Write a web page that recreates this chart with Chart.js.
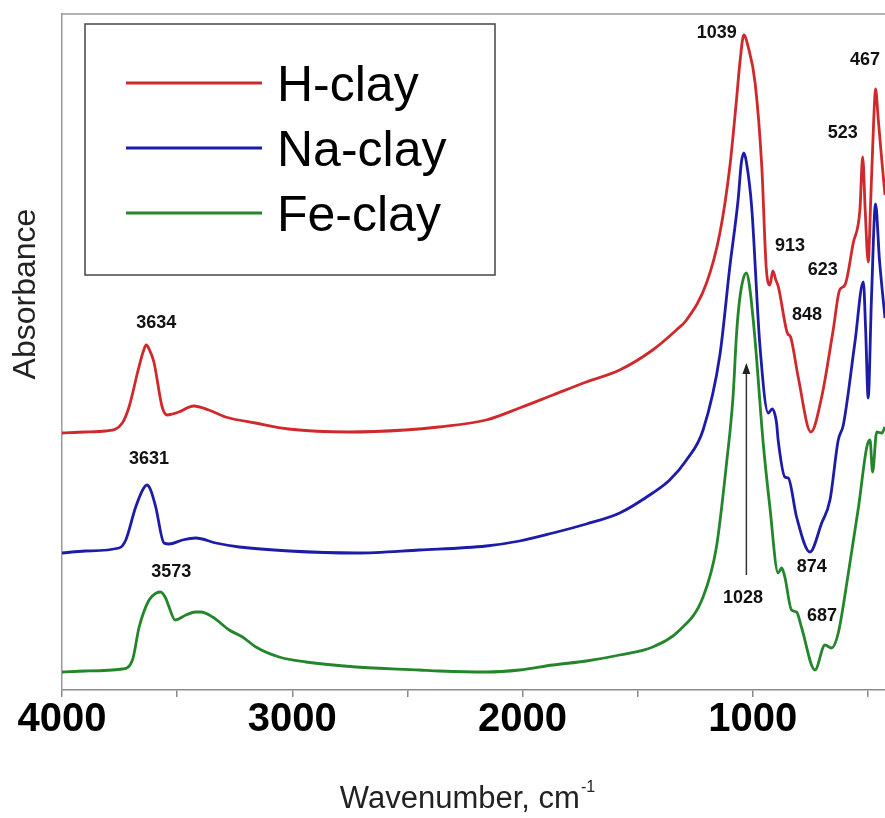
<!DOCTYPE html>
<html><head><meta charset="utf-8">
<script src="https://cdn.jsdelivr.net/npm/chart.js@4.4.0/dist/chart.umd.min.js"></script>
<style>html,body{margin:0;padding:0;background:#fff;overflow:hidden}#wrap{width:885px;height:818px;position:relative}</style>
</head><body><div id="wrap"><canvas id="c"></canvas></div>
<script>
// Wavenumbers (cm-1) and absorbance (arbitrary units, offset spectra)
const hWave = [4000,3900,3810,3738,3709,3666,3645,3634,3620,3601,3565,3543,3520,3493,3428,3363,3290,3160,3016,2755,2510,2365,2158,2013,1868,1723,1578,1435,1332,1288,1201,1143,1100,1071,1055,1039,1020,990,961,942,926,913,900,889,854,848,836,803,748,701,651,623,600,564,535,523,512,499,488,475,467,455,440,426];
const hAbs  = [2.57,2.58,2.59,2.67,2.83,3.23,3.40,3.45,3.40,3.28,2.83,2.75,2.76,2.78,2.84,2.80,2.73,2.67,2.61,2.58,2.60,2.63,2.70,2.82,2.95,3.08,3.20,3.40,3.60,3.70,4.07,4.57,5.23,5.90,6.30,6.55,6.43,6.07,5.23,4.23,4.05,4.19,4.10,4.03,3.60,3.56,3.53,3.13,2.58,2.93,3.60,4.00,4.05,4.47,4.80,5.33,4.80,4.28,4.90,5.70,6.01,5.70,5.30,4.95];

const naWave = [4000,3900,3752,3723,3680,3645,3631,3615,3593,3557,3535,3477,3419,3332,3230,3013,2723,2448,2158,2013,1868,1723,1578,1435,1361,1288,1216,1143,1100,1064,1050,1039,1028,1005,970,933,916,897,890,861,846,810,752,701,665,629,607,557,520,510,499,485,467,450,426];
const naAbs  = [1.37,1.39,1.42,1.50,1.83,2.02,2.05,2.00,1.83,1.47,1.46,1.50,1.52,1.47,1.43,1.39,1.37,1.40,1.44,1.49,1.57,1.66,1.77,1.97,2.10,2.30,2.60,3.35,4.23,4.90,5.27,5.37,5.28,4.83,3.47,2.77,2.81,2.67,2.50,2.13,2.12,1.73,1.38,1.67,1.90,2.50,2.65,3.47,4.08,3.60,2.92,3.90,4.86,4.30,3.72];

const feWave = [4000,3900,3738,3694,3665,3622,3590,3573,3550,3535,3509,3462,3420,3397,3346,3274,3216,3158,3057,2941,2723,2448,2361,2158,2013,1868,1723,1578,1435,1317,1216,1158,1114,1086,1071,1060,1045,1028,1015,991,955,926,890,875,861,832,810,789,730,687,658,629,585,541,505,491,480,462,440,426];
const feAbs  = [0.18,0.19,0.21,0.30,0.63,0.90,0.97,0.98,0.92,0.83,0.70,0.75,0.78,0.78,0.73,0.60,0.53,0.43,0.33,0.28,0.23,0.20,0.19,0.18,0.20,0.25,0.29,0.35,0.43,0.60,0.93,1.43,2.27,2.93,3.55,3.85,4.08,4.17,4.05,3.52,2.47,1.83,1.17,1.22,1.13,0.80,0.78,0.63,0.20,0.45,0.42,0.57,1.17,1.83,2.43,2.50,2.18,2.58,2.57,2.63];

const seriesNames = ['H-clay','Na-clay','Fe-clay'];
const seriesColors = ['#d0292b','#1c1ca8','#23862a'];

const tickValues = [4000,3500,3000,2500,2000,1500,1000,500];
const tickLabels = {4000:'4000',3000:'3000',2000:'2000',1000:'1000'};

// Peak annotations: text, wavenumber position, absorbance position
const peakText = ['1039','467','523','913','623','848','3634','3631','3573','874','687','1028'];
const peakWave = [1157,513,609,839,696,765,3591,3622,3526,744,700,1043];
const peakAbs  = [6.57,6.30,5.57,4.44,4.20,3.75,3.67,2.31,1.18,1.23,0.74,0.92];
const arrowWave = 1028, arrowFrom = 1.15, arrowTo = 3.27;

const FONT = '"Liberation Sans", Arial, Helvetica, sans-serif';

function pts(w, a){ return w.map((x,i)=>({x:x, y:a[i]})); }

const decor = {
  id:'decor',
  afterDatasetsDraw(chart){
    const ctx = chart.ctx, xs = chart.scales.x, ys = chart.scales.y, ca = chart.chartArea;
    ctx.save();
    // top frame line
    ctx.strokeStyle = '#9a9a9a'; ctx.lineWidth = 1.5;
    ctx.beginPath(); ctx.moveTo(ca.left, ca.top); ctx.lineTo(ca.right, ca.top); ctx.stroke();
    // peak labels
    ctx.fillStyle = '#111';
    ctx.font = 'bold 18px ' + FONT;
    ctx.textAlign = 'center'; ctx.textBaseline = 'middle';
    peakText.forEach((t,i)=>{
      ctx.fillText(t, xs.getPixelForValue(peakWave[i]), ys.getPixelForValue(peakAbs[i]));
    });
    // arrow
    const ax = xs.getPixelForValue(arrowWave);
    const y1 = ys.getPixelForValue(arrowFrom), y2 = ys.getPixelForValue(arrowTo);
    ctx.strokeStyle = '#333'; ctx.lineWidth = 1.5;
    ctx.beginPath(); ctx.moveTo(ax, y1); ctx.lineTo(ax, y2 + 8); ctx.stroke();
    ctx.fillStyle = '#222';
    ctx.beginPath(); ctx.moveTo(ax, y2); ctx.lineTo(ax-4, y2+11); ctx.lineTo(ax+4, y2+11); ctx.closePath(); ctx.fill();
    // legend
    const lx = 85, ly = 24, lw = 410, lh = 251;
    ctx.fillStyle = '#fff'; ctx.fillRect(lx, ly, lw, lh);
    ctx.strokeStyle = '#444'; ctx.lineWidth = 1.5; ctx.strokeRect(lx, ly, lw, lh);
    ctx.font = '50px ' + FONT; ctx.textAlign = 'left'; ctx.textBaseline = 'alphabetic';
    seriesNames.forEach((n,i)=>{
      const yy = 83 + i*65;
      ctx.strokeStyle = seriesColors[i]; ctx.lineWidth = 3;
      ctx.beginPath(); ctx.moveTo(126, yy); ctx.lineTo(262, yy); ctx.stroke();
      ctx.fillStyle = '#000'; ctx.fillText(n, 277, yy + 18);
    });
    // axis titles
    ctx.fillStyle = '#222';
    const main = 'Wavenumber, cm';
    ctx.font = '31px ' + FONT;
    const mw = ctx.measureText(main).width;
    ctx.font = '16px ' + FONT;
    const sw = ctx.measureText('-1').width;
    const cx = 467;
    const sx = cx - (mw + sw)/2;
    ctx.font = '31px ' + FONT; ctx.textAlign = 'left';
    ctx.fillText(main, sx, 808);
    ctx.font = '16px ' + FONT;
    ctx.fillText('-1', sx + mw + 1, 792);
    ctx.save();
    ctx.translate(26, 294); ctx.rotate(-Math.PI/2);
    ctx.font = '32px ' + FONT; ctx.textAlign = 'center'; ctx.textBaseline = 'middle';
    ctx.fillText('Absorbance', 0, 0);
    ctx.restore();
    ctx.restore();
  }
};

new Chart(document.getElementById('c'), {
  type:'line',
  data:{
    datasets:[
      {label:seriesNames[0], data:pts(hWave,hAbs), borderColor:seriesColors[0]},
      {label:seriesNames[1], data:pts(naWave,naAbs), borderColor:seriesColors[1]},
      {label:seriesNames[2], data:pts(feWave,feAbs), borderColor:seriesColors[2]}
    ]
  },
  options:{
    responsive:true, maintainAspectRatio:false, animation:false, devicePixelRatio:1,
    elements:{ point:{radius:0}, line:{borderWidth:2.8, cubicInterpolationMode:'monotone', fill:false} },
    layout:{ padding:{ left:0, right:0, top:14, bottom:0 } },
    plugins:{ legend:{display:false}, tooltip:{enabled:false} },
    scales:{
      x:{
        type:'linear', reverse:true, min:426, max:4000, position:'bottom',
        afterBuildTicks:(s)=>{ s.ticks = tickValues.map(v=>({value:v})); },
        afterFit:(s)=>{ s.height = 128; },
        ticks:{ callback:(v)=> tickLabels[v] || '', color:'#000', padding:3, maxRotation:0, autoSkip:false,
                font:{ family:FONT, size:40, weight:'bold', lineHeight:1 } },
        grid:{ display:true, drawOnChartArea:false, drawTicks:true, tickLength:7, color:'#8a8a8a', lineWidth:1.5 },
        border:{ display:true, color:'#8a8a8a', width:1.5 },
        title:{ display:false }
      },
      y:{
        type:'linear', min:0, max:6.76,
        afterFit:(s)=>{ s.width = 62; },
        ticks:{ display:false },
        grid:{ display:false },
        border:{ display:true, color:'#9a9a9a', width:1.5 },
        title:{ display:false }
      }
    }
  },
  plugins:[decor]
});
</script>
</body></html>
